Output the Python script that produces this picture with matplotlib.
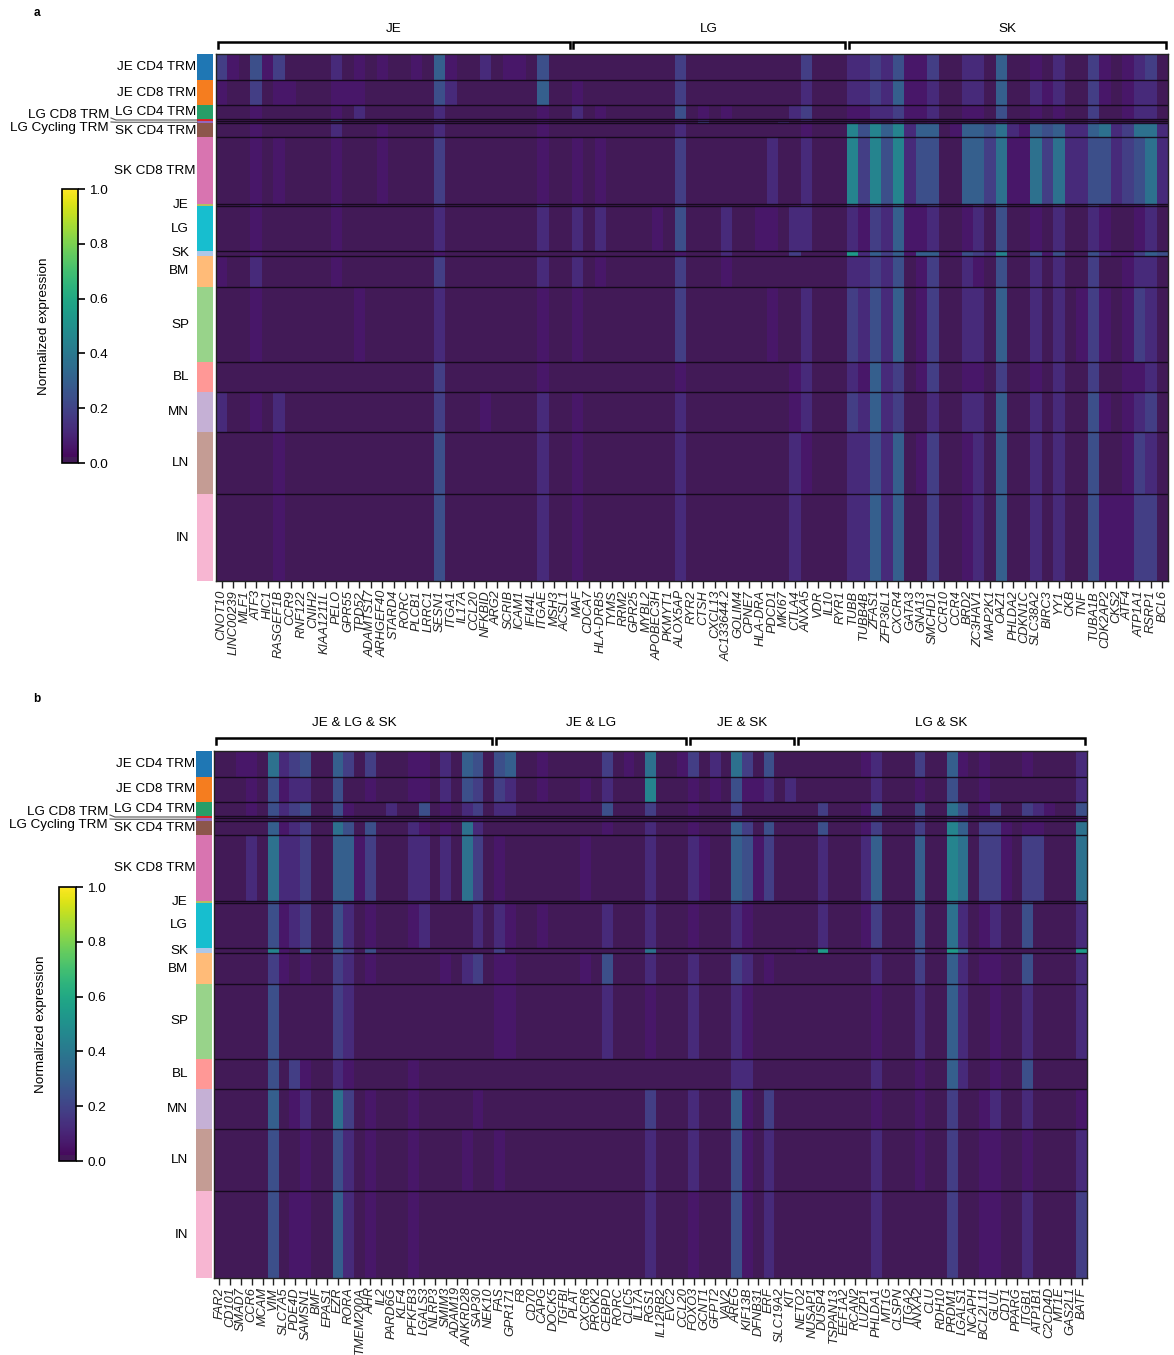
"""Gene expression heatmaps of tissue resident T cells, panels a and b."""
import matplotlib
import matplotlib.pyplot as plt
import numpy as np
from matplotlib.colors import ListedColormap
from matplotlib.transforms import blended_transform_factory

matplotlib.use("Agg")

plt.rcParams["font.family"] = ["Liberation Sans", "DejaVu Sans"]

W, H = 1174, 1355
STRIP_BG = "#421a57"
# what each digit in the level strings below stands for
LEVEL_VALUES = [0, 0.02, 0.06, 0.12, 0.18, 0.24, 0.30, 0.37, 0.45, 0.54]

# rows of the heatmap, in order
GROUPS = ["JE CD4 TRM", "JE CD8 TRM", "LG CD4 TRM", "LG CD8 TRM", "LG Cycling TRM", "SK CD4 TRM",
          "SK CD8 TRM", "JE", "LG", "SK", "BM", "SP", "BL", "MN", "LN", "IN"]
GROUP_SIZES = [26, 25, 14, 2, 2.5, 14, 66.5, 2, 45, 5, 31, 75, 30, 40, 62, 87]
GROUP_COLORS = ["#1f77b4", "#f57d1f", "#279e68", "#d62728", "#9467bd", "#8c564b", "#d874b0", "#b5bd61",
                "#17becf", "#aec7e8", "#ffbb78", "#98d38a", "#ff9896", "#c5b0d5", "#c49c94", "#f7b6d2"]

# panel a, one string per gene, one digit per group
JE_GENES = ["CNOT10", "LINC00239", "MLF1", "ATF3", "HIC1", "RASGEF1B", "CCR9", "RNF122", "CNIH2",
            "KIAA1211L", "PELO", "GPR55", "TPD52", "ADAMTS17", "ARHGEF40", "STARD4", "RORC", "PLCB1",
            "LRRC1", "SESN1", "ITGA1", "IL17A", "CCL20", "NFKBID", "ARG2", "SCRIB", "ICAM1", "IFI44L",
            "ITGAE", "MSH3", "ACSL1"]
JE_LEVELS = ["4211 1110 1021 1311", "2100 0110 1010 1000", "1100 0010 0011 1101", "5421 1223 2232 0211",
             "2100 0110 0000 0100", "4211 1121 1111 1322", "1200 0000 0000 0100", "0100 0000 0000 0000",
             "1000 0000 0000 0001", "0100 0001 0000 0000", "3225 1323 2121 1111", "1200 0000 0010 0000",
             "2230 0111 1012 0111", "0000 0000 0000 0000", "2100 0220 1011 0000", "1100 0001 0011 1111",
             "1100 0110 1011 0100", "2100 0110 1011 1110", "0000 0000 0000 0000", "6533 1343 3243 4455",
             "2300 0000 1001 0101", "0000 0000 0000 0000", "1000 0000 0000 0000", "3100 0111 1101 0211",
             "1000 0000 0000 0000", "2110 0110 1011 0001", "2000 0000 0000 0000", "0000 0000 0000 0000",
             "5622 2224 3132 2333", "1100 0000 0000 0000", "1100 0000 0011 0011"]

LG_GENES = ["MAF", "CDCA7", "HLA-DRB5", "TYMS", "RRM2", "GPR25", "MYBL2", "APOBEC3H", "PKMYT1", "ALOX5AP",
            "RYR2", "CTSH", "CXCL13", "AC133644.2", "GOLIM4", "CPNE7", "HLA-DRA", "PDCD1", "MKI67", "CTLA4",
            "ANXA5", "VDR", "IL10", "RYR1"]
LG_LEVELS = ["1231 1121 3132 1222", "0000 0000 0000 0000", "0020 0020 3021 0110", "0000 0000 0000 0000",
             "0000 0000 0000 0000", "0010 0000 0000 0000", "0000 0000 0000 0000", "0110 0001 2001 0000",
             "0000 0000 0000 0000", "4452 2343 5244 2333", "0000 0000 0000 0000", "1123 4011 1011 1111",
             "0000 0000 0000 0000", "1020 0111 3321 1110", "0010 0001 1001 0000", "0010 0000 0000 0000",
             "0010 0001 2000 0000", "1011 0131 2012 1111", "0000 3000 0000 0000", "1131 1112 3401 2233",
             "4343 1233 3113 3321", "0000 0000 0000 0000", "0000 0000 0000 0000", "1000 0000 0000 0000"]

SK_GENES = ["TUBB", "TUBB4B", "ZFAS1", "ZFP36L1", "CXCR4", "GATA3", "GNA13", "SMCHD1", "CCR10", "CCR4", "BRD2",
            "ZC3HAV1", "MAP2K1", "OAZ1", "PHLDA2", "CDKN1C", "SLC38A2", "BIRC3", "YY1", "CKB", "TNF", "TUBA1B",
            "CDK2AP2", "CKS2", "ATF4", "ATP1A1", "RSRP1", "BCL6"]
SK_LEVELS = ["3322 2884 3934 3433", "3321 1542 2333 2333", "4432 2885 4645 6656", "3331 1653 3433 3333",
             "5643 3886 6656 4466", "2221 1331 2211 1111", "2221 1652 2622 2121", "4331 2654 3644 4344",
             "0000 0110 0100 0000", "1000 0211 0201 1111", "3321 1662 2533 2322", "3321 1663 3423 2333",
             "1110 0541 1311 1111", "6652 3776 5856 4666", "0000 0320 0100 0100", "0000 0220 0000 0000",
             "2321 1672 2533 2333", "1210 0541 1211 1111", "3321 1673 3533 3333", "0000 0330 0101 0000",
             "1110 0331 0112 0111", "4443 3654 3544 4555", "2211 1752 2312 1212", "1110 0331 1211 1112",
             "2221 1442 1222 2222", "3331 1752 2434 2344", "4331 1774 3633 3434", "1110 0331 1511 1111"]

# panel b
ALL_GENES = ["FAR2", "CD101", "SMAD7", "CCR6", "MCAM", "VIM", "SLC7A5", "PDE4D", "SAMSN1", "BMF", "EPAS1", "EZR",
             "RORA", "TMEM200A", "AHR", "IL2", "PARD6G", "KLF4", "PFKFB3", "LGALS3", "NLRP3", "SMIM3", "ADAM19",
             "ANKRD28", "SAP30", "NEK10"]
ALL_LEVELS = ["1000 0010 1000 0011", "1100 0010 1000 1110", "2110 0010 1011 1111", "2220 1130 1011 1111",
              "1101 0100 0000 0000", "7554 1674 5845 5655", "3231 1232 2221 1111", "4341 1331 3111 4212",
              "5351 1441 4621 2322", "0000 0000 0000 0000", "1110 0110 1110 1000", "6554 1763 5644 3756",
              "4122 1562 3433 2433", "1111 0020 0100 0100", "4211 1541 2521 1222", "1100 0010 0000 1100",
              "1130 0010 1010 0001", "1111 0010 0000 0000", "2211 0331 2011 2222", "2253 1231 3010 1111",
              "1100 0110 0100 0110", "3321 1230 1020 0111", "1100 0010 0010 0011", "6532 2771 1031 0021",
              "5442 2341 3141 0211", "0000 0010 0000 0000"]

JL_GENES = ["FAS", "GPR171", "F8", "CD70", "CAPG", "DOCK5", "TGFBI", "PLAT", "CXCR6", "PROK2", "CEBPD", "RORC",
            "CLIC5", "IL17A", "RGS1", "IL12RB2", "EVC2", "CCL20"]
JL_LEVELS = ["5431 1121 3422 1120", "6331 1110 2122 1000", "0000 0000 0000 0000", "1000 0010 1000 0000",
             "2210 0110 2010 1111", "1100 0000 1010 0000", "0000 0000 0000 0000", "1000 0000 0000 0000",
             "0210 0020 1021 1000", "1000 0000 0000 0000", "4351 1210 3053 1010", "1000 0000 0000 0000",
             "2100 0000 0000 0000", "0000 0000 0000 0000", "7841 1332 3732 1433", "1100 0001 0010 0000",
             "0000 0000 0000 0000", "2000 0010 1000 0100"]

JS_GENES = ["FOXO3", "GCNT1", "GFPT2", "VAV2", "AREG", "KIF13B", "DFNB31", "ERF", "SLC19A2", "KIT"]
JS_LEVELS = ["4220 1231 2133 1332", "1110 0121 1010 0010", "3210 0110 0000 0000", "1000 0010 0000 0000",
             "7541 2665 3143 3655", "4211 2452 2132 3222", "1210 0120 0010 1111", "5311 1541 0021 1433",
             "1100 0011 0000 0001", "1300 0000 0000 0000"]

LS_GENES = ["NETO2", "NUSAP1", "DUSP4", "TSPAN13", "EEF1A2", "RCAN2", "LUZP1", "PHLDA1", "MT1G", "CLSPN", "ITGA2",
            "ANXA2", "CLU", "RDH10", "PRDM1", "LGALS1", "NCAPH", "BCL2L11", "GLUL", "CDT1", "PPARG", "ITGB1",
            "ATP1B1", "C2CD4D", "MT1E", "GAS2L1", "BATF"]
LS_LEVELS = ["0000 0011 1200 0000", "0010 0011 0100 0000", "1040 1532 3900 0001", "0010 0000 0000 0000",
             "0000 0010 0000 0000", "0000 0010 0000 0000", "2121 1231 2111 1101", "3351 0463 4132 3233",
             "0000 0000 0000 0000", "0000 0010 0100 0000", "0000 0010 0000 0000", "4253 3465 5543 2221",
             "0010 0010 1000 1000", "1000 0010 0000 0000", "6573 3886 7966 6444", "2153 2673 3633 3111",
             "0010 0000 0000 0000", "2221 1442 2021 1222", "1140 0442 3022 2322", "1010 0220 0100 0000",
             "1010 0010 0000 0000", "2141 1244 5153 5323", "1030 0241 1000 0000", "1020 0000 0000 0000",
             "0000 0010 0000 0000", "1010 0000 0000 0000", "3352 2773 3933 1234"]

# colour bar lower end matches the muted background of the panels
cmap_colors = plt.get_cmap("viridis")(np.linspace(0, 1, 256))
cmap_colors[:6] = matplotlib.colors.to_rgba(STRIP_BG)
CMAP = ListedColormap(cmap_colors)


def px_axes(fig, left, top, right, bottom):
    return fig.add_axes([left / W, 1 - bottom / H, (right - left) / W, (bottom - top) / H])


def to_matrix(level_lists):
    rows = [[LEVEL_VALUES[int(c)] for c in s.replace(" ", "")] for levels in level_lists for s in levels]
    return np.array(rows).T


def draw_panel(fig, left, right, top, bottom, strip_left, strip_right, gene_lists, level_lists, bracket_names,
               bracket_gap, title_gap):
    genes = [g for names in gene_lists for g in names]
    matrix = to_matrix(level_lists)
    edges = np.concatenate([[0], np.cumsum(GROUP_SIZES)])

    ax = px_axes(fig, left, top, right, bottom)
    mesh = ax.pcolormesh(np.arange(len(genes) + 1), edges, matrix, cmap=CMAP, vmin=0, vmax=1, rasterized=True)
    ax.set_ylim(edges[-1], 0)
    ax.hlines(edges[1:-1], 0, len(genes), color="#120818", lw=1.0, alpha=0.9)
    ax.set_yticks([])
    ax.set_xticks(np.arange(len(genes)) + 0.5)
    ax.set_xticklabels(genes, rotation=90, fontsize=9.2, style="italic", color="#222222")
    ax.tick_params(axis="x", length=5, width=1, pad=1.5, color="#222222")
    for spine in ax.spines.values():
        spine.set_linewidth(1.0)
        spine.set_color("#222222")

    # group brackets above the heatmap
    trans = blended_transform_factory(ax.transData, ax.transAxes)
    height = bottom - top
    start = 0
    for names, label in zip(gene_lists, bracket_names):
        end = start + len(names)
        x0, x1 = start + 0.16, end - 0.16
        y_low, y_high = 1 + (bracket_gap - 6) / height, 1 + bracket_gap / height
        ax.plot([x0, x0, x1, x1], [y_low, y_high, y_high, y_low], transform=trans, color="black",
                lw=1.8, clip_on=False, solid_joinstyle="miter")
        ax.text((x0 + x1) / 2, 1 + title_gap / height, label, transform=trans, ha="center", va="center",
                fontsize=9.7)
        start = end

    # coloured strip with the group names
    strip = px_axes(fig, strip_left, top, strip_right, bottom)
    strip.barh(edges[:-1], 1, height=GROUP_SIZES, align="edge", color=GROUP_COLORS)
    strip.set_xlim(0, 1)
    strip.set_ylim(edges[-1], 0)
    strip.axis("off")

    centers = (edges[:-1] + edges[1:]) / 2
    for name, y in zip(GROUPS, centers):
        if name in ("LG CD8 TRM", "LG Cycling TRM"):
            continue
        right_x = strip_left - 1 if "TRM" in name else strip_left - 8
        fig.text(right_x / W, 1 - (top + y) / H, name, ha="right", va="center", fontsize=9.7)

    # the two thin groups get their names off to the side, with leader lines
    y_cd8 = top + (edges[3] + edges[4]) / 2
    y_cyc = top + (edges[4] + edges[5]) / 2
    for name, y_text, y_row in (("LG CD8 TRM", top + 61, y_cd8), ("LG Cycling TRM", top + 74, y_cyc)):
        tx = strip_left - 88
        fig.text(tx / W, 1 - y_text / H, name, ha="right", va="center", fontsize=9.7)
        bend_from = y_text + (3 if y_text < y_row else -6)
        fig.add_artist(plt.Line2D(
            [(tx + 2) / W, (tx + 7) / W, strip_left / W],
            [1 - bend_from / H, 1 - y_row / H, 1 - y_row / H],
            color="#555555", lw=0.8,
        ))
    return mesh


def draw_colorbar(fig, mesh, left, top, right, bottom, label_x):
    cax = px_axes(fig, left, top, right, bottom)
    bar = fig.colorbar(mesh, cax=cax, ticks=[0, 0.2, 0.4, 0.6, 0.8, 1.0])
    bar.ax.set_yticklabels(["0.0", "0.2", "0.4", "0.6", "0.8", "1.0"], fontsize=9.7)
    bar.ax.tick_params(length=5, width=1.2, pad=3)
    bar.outline.set_linewidth(1.2)
    fig.text(label_x / W, 1 - (top + bottom) / 2 / H, "Normalized expression", rotation=90,
             ha="center", va="center", fontsize=9.7)


fig = plt.figure(figsize=(W / 100, H / 100), dpi=100, facecolor="white")

mesh_a = draw_panel(fig, 216, 1168, 54, 581, 197, 213,
                    [JE_GENES, LG_GENES, SK_GENES], [JE_LEVELS, LG_LEVELS, SK_LEVELS],
                    ["JE", "LG", "SK"], 12, 25)
mesh_b = draw_panel(fig, 214, 1087, 751, 1278, 196, 212,
                    [ALL_GENES, JL_GENES, JS_GENES, LS_GENES], [ALL_LEVELS, JL_LEVELS, JS_LEVELS, LS_LEVELS],
                    ["JE & LG & SK", "JE & LG", "JE & SK", "LG & SK"], 13, 28)

draw_colorbar(fig, mesh_a, 62, 189, 78, 463, 44)
draw_colorbar(fig, mesh_b, 59, 887, 76, 1161, 41)

fig.text(37 / W, 1 - 13 / H, "a", fontsize=8.5, fontweight="bold", ha="center", va="center")
fig.text(37 / W, 1 - 699 / H, "b", fontsize=8.5, fontweight="bold", ha="center", va="center")

fig.savefig("out.png", dpi=100, facecolor="white")
plt.close(fig)
